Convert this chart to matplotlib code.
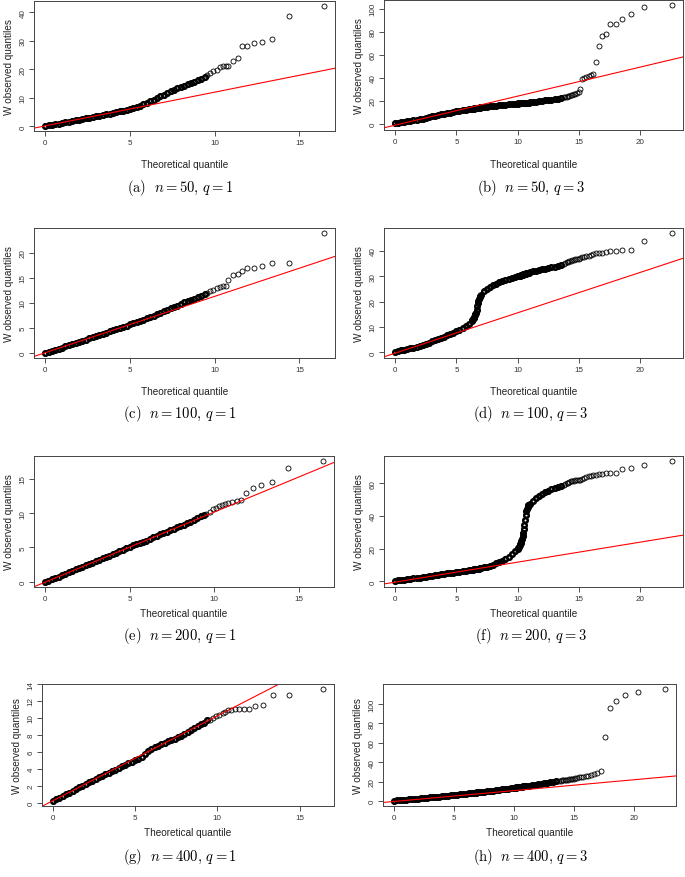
import numpy as np
import matplotlib
matplotlib.use('Agg')
import matplotlib.pyplot as plt

plt.rcParams['font.family'] = ['Liberation Sans', 'DejaVu Sans']
plt.rcParams['mathtext.fontset'] = 'cm'

# theoretical quantiles, shared by the panels of one column
x_q1 = [0.0, 0.2, 0.4, 0.6, 0.8, 1.0, 1.2, 1.4, 1.6, 1.8, 2.0, 2.2, 2.4, 2.6, 2.8, 3.0,
        3.2, 3.4, 3.6, 3.8, 4.0, 4.2, 4.4, 4.6, 4.8, 5.0, 5.2, 5.4, 5.6, 5.8, 6.0, 6.2,
        6.4, 6.6, 6.8, 7.0, 7.2, 7.4, 7.6, 7.8, 8.0, 8.2, 8.4, 8.6, 8.8, 9.0, 9.2, 9.4,
        9.53, 9.73, 9.93, 10.12, 10.32, 10.48, 10.66, 10.81, 11.07, 11.35, 11.60, 11.90,
        12.30, 12.77, 13.40, 14.37, 16.44]

x_q3 = [0.0, 0.25, 0.5, 0.75, 1.0, 1.25, 1.5, 1.75, 2.0, 2.25, 2.5, 2.75, 3.0, 3.25, 3.5,
        3.75, 4.0, 4.25, 4.5, 4.75, 5.0, 5.25, 5.5, 5.75, 6.0, 6.25,
        6.3, 6.35, 6.4, 6.45, 6.5, 6.55, 6.6, 6.65, 6.7, 6.75, 6.8, 6.85, 6.9, 6.95, 7.0,
        7.25, 7.5, 7.75, 8.0, 8.25, 8.5, 8.75, 9.0, 9.25, 9.5, 9.75,
        10.0, 10.05, 10.1, 10.15, 10.2, 10.25, 10.3, 10.35, 10.4, 10.45, 10.5, 10.55, 10.6,
        10.65, 10.7, 10.75, 10.8, 10.85, 10.9,
        11.0, 11.25, 11.5, 11.75, 12.0, 12.25, 12.5, 12.75, 13.0, 13.25, 13.5,
        13.78, 13.88, 13.99, 14.10, 14.21, 14.33, 14.45, 14.57, 14.70, 14.83, 14.97, 15.11,
        15.26, 15.42, 15.59, 15.77, 15.96, 16.17, 16.39, 16.62, 16.88, 17.20, 17.55, 17.97,
        18.49, 19.22, 20.27, 22.57]

# observed W quantiles
y_a = [0.1, 0.35, 0.6, 0.8, 1.0, 1.25, 1.45, 1.7, 1.9, 2.15, 2.35, 2.6, 2.85, 3.1, 3.3, 3.55,
       3.8, 4.05, 4.3, 4.5, 4.75, 5.0, 5.25, 5.5, 5.8, 6.1, 6.4, 6.8, 7.3, 7.8, 8.3, 8.8,
       9.4, 10.0, 10.6, 11.2, 11.8, 12.4, 12.9, 13.4, 13.9, 14.3, 14.8, 15.3, 15.7, 16.2, 16.8, 17.5,
       18.1, 18.7, 19.3, 19.9, 20.7, 21.1, 21.3, 21.3, 23.0, 24.1, 28.1, 28.1, 29.2, 29.7,
       30.8, 38.6, 42.3]
y_c = [0.0, 0.2, 0.45, 0.65, 0.9, 1.1, 1.35, 1.55, 1.8, 2.0, 2.25, 2.5, 2.7, 2.95, 3.15, 3.4,
       3.65, 3.9, 4.1, 4.35, 4.6, 4.8, 5.05, 5.3, 5.5, 5.75, 6.0, 6.2, 6.45, 6.7, 6.95, 7.2,
       7.5, 7.8, 8.1, 8.4, 8.7, 9.0, 9.3, 9.5, 9.9, 10.2, 10.4, 10.6, 10.9, 11.2, 11.5, 11.8,
       12.0, 12.3, 12.6, 13.0, 13.2, 13.3, 13.4, 14.6, 15.6, 15.7, 16.3, 17.0, 17.0, 17.4,
       17.9, 17.9, 24.0]
y_e = [0.0, 0.15, 0.35, 0.55, 0.75, 0.95, 1.15, 1.4, 1.6, 1.8, 2.0, 2.2, 2.4, 2.6, 2.8, 3.0,
       3.2, 3.4, 3.6, 3.8, 4.0, 4.2, 4.45, 4.65, 4.85, 5.1, 5.3, 5.5, 5.7, 5.85, 6.0, 6.2,
       6.45, 6.7, 6.9, 7.1, 7.3, 7.55, 7.75, 7.95, 8.1, 8.3, 8.5, 8.7, 9.0, 9.3, 9.6, 9.75,
       9.9, 10.1, 10.6, 10.8, 11.0, 11.2, 11.3, 11.5, 11.6, 11.7, 11.9, 12.9, 13.6, 14.1,
       14.5, 16.5, 17.6]
y_g = [0.15, 0.4, 0.6, 0.8, 1.0, 1.2, 1.4, 1.6, 1.8, 2.0, 2.2, 2.4, 2.6, 2.8, 3.0, 3.2,
       3.4, 3.55, 3.7, 3.9, 4.1, 4.3, 4.5, 4.65, 4.8, 5.0, 5.15, 5.35, 5.8, 6.05, 6.3, 6.55,
       6.75, 6.95, 7.1, 7.25, 7.4, 7.55, 7.7, 7.85, 8.05, 8.3, 8.55, 8.8, 9.05, 9.25, 9.45, 9.75,
       9.8, 10.0, 10.2, 10.4, 10.6, 10.7, 10.9, 10.95, 11.0, 11.0, 11.05, 11.1, 11.45, 11.55,
       12.65, 12.75, 13.45]

y_b = [0.5, 0.9, 1.3, 1.8, 2.2, 2.6, 3.0, 3.5, 4.0, 4.6, 5.2, 5.8, 6.4, 7.0, 7.6, 8.1, 8.6,
       9.2, 9.8, 10.4, 10.9, 11.3, 11.7, 12.1, 12.5, 12.9,
       13.0, 13.1, 13.2, 13.3, 13.35, 13.45, 13.55, 13.65, 13.75, 13.8, 13.9, 14.0, 14.1, 14.2, 14.3,
       14.6, 15.0, 15.3, 15.6, 15.9, 16.1, 16.4, 16.6, 16.9, 17.1, 17.4,
       17.6, 17.65, 17.7, 17.75, 17.8, 17.85, 17.9, 17.95, 18.0, 18.05, 18.1, 18.15, 18.2,
       18.25, 18.3, 18.35, 18.4, 18.45, 18.5,
       18.6, 18.9, 19.2, 19.6, 20.0, 20.3, 20.6, 21.0, 21.4, 21.8, 22.2,
       22.9, 23.2, 23.5, 23.9, 24.3, 24.7, 25.2, 25.6, 26.0, 26.6, 27.7, 30.0,
       38.6, 40.0, 40.6, 41.4, 42.3, 43.4, 53.7, 68.0, 76.6, 77.7, 86.6, 86.9,
       91.4, 95.1, 101.4, 103.4]
y_d = [0.3, 0.55, 0.8, 1.05, 1.3, 1.6, 1.9, 2.25, 2.6, 3.0, 3.4, 3.85, 4.3, 4.75, 5.2, 5.7,
       6.2, 6.7, 7.25, 7.8, 8.4, 9.0, 9.7, 10.4, 11.3, 12.4,
       12.7, 13.1, 13.6, 14.1, 14.6, 15.1, 15.7, 16.8, 18.2, 19.4, 20.4, 21.1, 21.7, 22.2, 22.7,
       24.0, 25.1, 25.8, 26.4, 27.0, 27.6, 28.1, 28.6, 28.9, 29.2, 29.6,
       29.9, 30.0, 30.1, 30.2, 30.25, 30.35, 30.45, 30.5, 30.6, 30.7, 30.8, 30.85, 30.95,
       31.05, 31.1, 31.2, 31.3, 31.35, 31.45,
       31.6, 31.9, 32.2, 32.5, 32.7, 33.0, 33.2, 33.5, 33.8, 34.2, 34.6,
       35.0, 35.3, 35.5, 35.7, 35.9, 36.1, 36.2, 36.4, 36.6, 36.6, 36.9, 37.1,
       37.4, 37.6, 37.8, 38.0, 38.3, 38.6, 39.0, 39.2, 39.2, 39.6, 40.0, 40.0,
       40.3, 40.5, 43.8, 47.1]
y_f = [0.3, 0.6, 0.9, 1.1, 1.3, 1.6, 1.8, 2.1, 2.3, 2.6, 2.9, 3.1, 3.4, 3.7, 3.9, 4.2,
       4.5, 4.8, 5.0, 5.3, 5.6, 5.9, 6.2, 6.5, 6.8, 7.1,
       7.15, 7.2, 7.25, 7.35, 7.4, 7.45, 7.5, 7.6, 7.65, 7.7, 7.8, 7.85, 7.9, 8.0, 8.1,
       8.6, 9.0, 9.6, 10.3, 11.0, 11.8, 12.7, 13.8, 15.2, 16.9, 18.4,
       19.9, 20.6, 21.3, 22.0, 22.8, 23.6, 24.6, 26.0, 27.8, 29.8, 32.0, 34.8, 37.6,
       40.4, 42.8, 44.6, 45.8, 46.5, 47.0,
       47.4, 49.3, 51.2, 52.5, 53.5, 54.6, 55.5, 56.5, 57.4, 58.0, 58.6,
       59.3, 59.7, 60.1, 60.5, 60.9, 61.2, 61.5, 61.7, 61.8, 62.0, 62.1, 62.3,
       62.8, 63.2, 63.7, 64.3, 64.8, 65.1, 65.4, 65.7, 65.9, 66.1, 66.3, 66.5,
       68.7, 69.3, 71.3, 73.8]
y_h = [0.5, 0.8, 1.0, 1.2, 1.4, 1.7, 2.0, 2.3, 2.6, 2.9, 3.2, 3.5, 3.8, 4.1, 4.4, 4.7,
       5.0, 5.4, 5.7, 6.0, 6.4, 6.7, 7.0, 7.4, 7.7, 8.0,
       8.05, 8.1, 8.2, 8.25, 8.3, 8.4, 8.45, 8.5, 8.6, 8.65, 8.7, 8.8, 8.85, 8.95, 9.0,
       9.3, 9.6, 10.0, 10.4, 10.8, 11.2, 11.6, 12.0, 12.4, 12.8, 13.2,
       13.6, 13.7, 13.8, 13.9, 14.0, 14.1, 14.2, 14.3, 14.4, 14.5, 14.6, 14.7, 14.8,
       14.9, 15.0, 15.1, 15.2, 15.3, 15.4,
       15.6, 16.0, 16.5, 17.0, 17.5, 17.9, 18.4, 18.9, 19.4, 19.9, 20.4,
       20.8, 21.0, 21.3, 21.5, 21.8, 22.0, 22.2, 22.4, 22.6, 22.8, 23.2, 23.5,
       23.8, 24.3, 24.8, 25.2, 25.7, 26.0, 26.4, 27.8, 29.2, 31.2, 65.8, 95.6,
       103.0, 109.2, 111.9, 115.9]

# reference lines (intercept, slope)
line_a = (0.2, 1.183)
line_b = (-1.2, 2.526)
line_c = (0.09, 1.124)
line_d = (-0.31, 1.592)
line_e = (-0.05, 1.019)
line_f = (-0.5, 1.226)
line_g = (0.24, 1.0)
line_h = (-0.4, 1.12)

yticks_a = [0, 10, 20, 30, 40]
yticks_b = [0, 20, 40, 60, 80, 100]
yticks_c = [0, 5, 10, 15, 20]
yticks_d = [0, 10, 20, 30, 40]
yticks_e = [0, 5, 10, 15]
yticks_f = [0, 20, 40, 60]
yticks_g = [0, 2, 4, 6, 8, 10, 12, 14]
yticks_h = [0, 20, 40, 60, 80, 100]

captions = [r'$\mathrm{(a)}\ \ n = 50,\, q = 1$', r'$\mathrm{(b)}\ \ n = 50,\, q = 3$',
            r'$\mathrm{(c)}\ \ n = 100,\, q = 1$', r'$\mathrm{(d)}\ \ n = 100,\, q = 3$',
            r'$\mathrm{(e)}\ \ n = 200,\, q = 1$', r'$\mathrm{(f)}\ \ n = 200,\, q = 3$',
            r'$\mathrm{(g)}\ \ n = 400,\, q = 1$', r'$\mathrm{(h)}\ \ n = 400,\, q = 3$']

W, H = 685, 878
fig = plt.figure(figsize=(W / 100, H / 100), dpi=100)

# axes boxes in pixels: left, top, right, bottom
boxes = [(34, 2, 335, 132), (384, 1, 683, 131),
         (34, 229, 335, 359), (384, 229, 683, 359),
         (34, 457, 334, 588), (384, 457, 683, 588),
         (42, 685, 334, 807), (383, 685, 676, 807)]
xlab_y = [165, 392, 614, 833]
cap_y = [188, 414, 636, 857]

panels = [(x_q1, y_a, line_a, yticks_a), (x_q3, y_b, line_b, yticks_b),
          (x_q1, y_c, line_c, yticks_c), (x_q3, y_d, line_d, yticks_d),
          (x_q1, y_e, line_e, yticks_e), (x_q3, y_f, line_f, yticks_f),
          (x_q1, y_g, line_g, yticks_g), (x_q3, y_h, line_h, yticks_h)]

for i, (x, y, (b0, b1), yt) in enumerate(panels):
    l, t, r, bt = boxes[i]
    ax = fig.add_axes([l / W, 1 - bt / H, (r - l) / W, (bt - t) / H])
    # the packed part of the sample overlaps into a solid band
    nd = 48 if i % 2 == 0 else 82
    ax.plot(x[:nd], y[:nd], 'o', mfc='none', mec='black', ms=3.3, mew=1.8)
    ax.plot(x[nd:], y[nd:], 'o', mfc='none', mec='black', ms=3.6, mew=0.6)
    ax.axline((0, b0), slope=b1, color='red', lw=0.8)
    ax.margins(0.04)
    if i % 2 == 0:
        ax.set_xticks([0, 5, 10, 15])
    else:
        ax.set_xticks([0, 5, 10, 15, 20])
    ax.set_yticks(yt)
    ax.tick_params(direction='out', length=3.5, width=0.6, labelsize=5.8,
                   color='#333333', labelcolor='#333333', pad=2)
    ax.tick_params(axis='y', labelrotation=90)
    for lab in ax.get_yticklabels():
        lab.set_va('center')
    for s in ax.spines.values():
        s.set_linewidth(0.7)
        s.set_color('#444444')

    cx = (l + r) / 2
    row = i // 2
    fig.text(cx / W, 1 - xlab_y[row] / H, 'Theoretical quantile', ha='center',
             va='center', fontsize=7.2, color='#222222')
    fig.text((l - 25) / W, 1 - (t + bt) / 2 / H, 'W observed quantiles', ha='center',
             va='center', rotation=90, fontsize=7.2, color='#222222')
    capx = 180 if i % 2 == 0 else 531
    fig.text(capx / W, 1 - cap_y[row] / H, captions[i], ha='center', va='center',
             fontsize=10.5)

fig.savefig('out.png', dpi=100)
